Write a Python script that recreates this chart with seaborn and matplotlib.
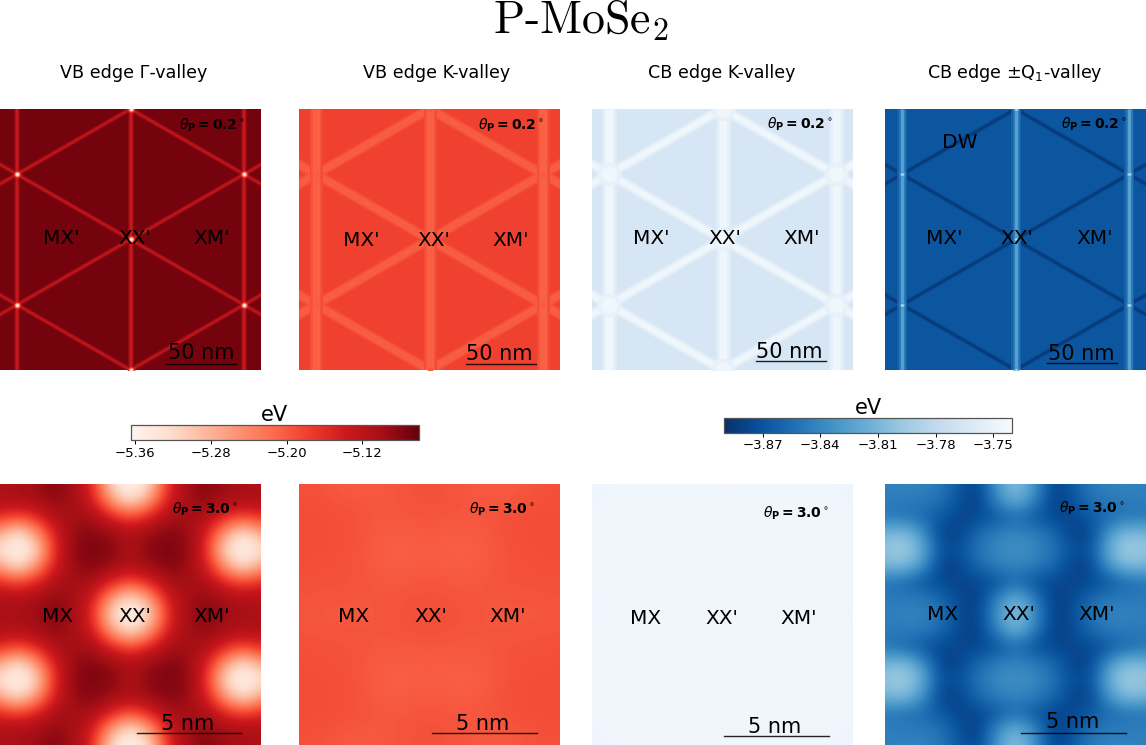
import numpy as np
import matplotlib
matplotlib.use('Agg')
import matplotlib.pyplot as plt
import seaborn as sns

W, H = 1146, 745
PANEL = 261

valleys = ['VB edge Γ-valley', 'VB edge K-valley', 'CB edge K-valley', 'CB edge ±Q$_1$-valley']
red_ticks = [-5.36, -5.28, -5.20, -5.12]
blue_ticks = [-3.87, -3.84, -3.81, -3.78, -3.75]
red_range = (-5.365, -5.0605)
blue_range = (-3.8903, -3.74)

# domain walls of the 0.2 degree panels, nm from panel centre
wall_diag_x = [(-162.8, 162.8), (-162.8, 162.8), (-162.8, 0), (0, 162.8), (-162.8, 0), (0, 162.8)]
wall_diag_y = [(93.6, -93.6), (-93.6, 93.6), (0, 93.6), (93.6, 0), (0, -93.6), (-93.6, 0)]
wall_vert_x = [-81.4, 0, 81.4]
node_x = [0, 0, 0, -81.4, -81.4, 81.4, 81.4]
node_y = [93.6, 0, -93.6, 46.8, -46.8, 46.8, -46.8]
SPAN = 187.2

# energies on the flat part of the 0.2 degree panels (eV)
top_gamma_vb = [[-5.069, -5.069], [-5.069, -5.069]]
top_k_vb = [[-5.180, -5.180], [-5.180, -5.180]]
top_k_cb = [[-3.7635, -3.7635], [-3.7635, -3.7635]]
top_q_cb = [[-3.8685, -3.8685], [-3.8685, -3.8685]]

# (eV) diagonal wall, vertical wall and node levels, outermost first
gamma_levels = ([-5.085, -5.105, -5.125], [-5.085, -5.11, -5.135], [-5.16, -5.26, -5.36])
kvb_levels = ([-5.186, -5.194, -5.203], [-5.186, -5.196, -5.205], [-5.200])
kcb_levels = ([-3.758, -3.752, -3.746], [-3.758, -3.752, -3.746], [-3.752, -3.746])
q_levels = ([-3.873, -3.878, -3.884], [-3.862, -3.848, -3.824], [-3.83, -3.79])

# 3.0 degree panels: left half of the top half, the picture is mirror symmetric
bot_gamma_vb = [
    [-5.108, -5.105, -5.095, -5.078, -5.097, -5.155, -5.330, -5.360],
    [-5.108, -5.105, -5.100, -5.085, -5.100, -5.140, -5.260, -5.340],
    [-5.155, -5.185, -5.155, -5.108, -5.098, -5.100, -5.150, -5.185],
    [-5.260, -5.340, -5.260, -5.140, -5.088, -5.080, -5.090, -5.112],
    [-5.330, -5.360, -5.330, -5.155, -5.082, -5.072, -5.082, -5.108],
    [-5.260, -5.340, -5.260, -5.140, -5.088, -5.080, -5.090, -5.112],
    [-5.155, -5.185, -5.155, -5.108, -5.098, -5.100, -5.150, -5.185],
    [-5.108, -5.112, -5.100, -5.085, -5.100, -5.140, -5.260, -5.340],
    [-5.105, -5.102, -5.095, -5.078, -5.097, -5.155, -5.330, -5.360],
]
bot_k_vb = [
    [-5.192, -5.192, -5.205, -5.197, -5.190],
    [-5.190, -5.188, -5.190, -5.197, -5.192],
    [-5.189, -5.189, -5.192, -5.212, -5.202],
    [-5.190, -5.192, -5.192, -5.198, -5.195],
    [-5.195, -5.198, -5.200, -5.194, -5.186],
]
bot_k_cb = [
    [-3.746, -3.746, -3.745],
    [-3.746, -3.745, -3.745],
    [-3.746, -3.746, -3.745],
]
bot_q_cb = [
    [-3.844, -3.842, -3.842, -3.847, -3.867, -3.880, -3.830, -3.800],
    [-3.844, -3.847, -3.847, -3.852, -3.872, -3.882, -3.840, -3.812],
    [-3.850, -3.850, -3.856, -3.867, -3.877, -3.877, -3.867, -3.855],
    [-3.812, -3.803, -3.828, -3.877, -3.880, -3.857, -3.845, -3.840],
    [-3.800, -3.793, -3.810, -3.872, -3.872, -3.852, -3.838, -3.835],
    [-3.812, -3.803, -3.828, -3.877, -3.880, -3.857, -3.845, -3.840],
    [-3.850, -3.856, -3.867, -3.877, -3.877, -3.877, -3.872, -3.855],
    [-3.847, -3.847, -3.847, -3.857, -3.877, -3.882, -3.845, -3.812],
    [-3.845, -3.842, -3.842, -3.850, -3.874, -3.882, -3.832, -3.798],
]

top_left = [0, 299, 592, 885]


def unfold(half):
    rows = [r + r[-2::-1] for r in half]
    return np.array(rows + rows[-2::-1])


def field(ax, grid, cmap, vrange, step, cax=None):
    # heatmap sets up the axes and the colour bar, imshow on top smooths the cells
    grid = np.array(grid)
    sns.heatmap(grid, ax=ax, cmap=cmap, vmin=vrange[0], vmax=vrange[1],
                xticklabels=False, yticklabels=False,
                cbar=cax is not None, cbar_ax=cax,
                cbar_kws={'orientation': 'horizontal'})
    ny, nx = grid.shape
    ax.imshow(grid, cmap=cmap, vmin=vrange[0], vmax=vrange[1], aspect='auto',
              interpolation='bicubic', extent=(0, nx, ny, 0), zorder=1.5)
    ax.set_xlim(nx / 2 - PANEL / 2 / step[0], nx / 2 + PANEL / 2 / step[0])
    ax.set_ylim(ny / 2 + PANEL / 2 / step[1], ny / 2 - PANEL / 2 / step[1])


def walls(ax, levels, cmap, vrange, diag_w, vert_w, node_s):
    cm = plt.get_cmap(cmap)
    norm = plt.Normalize(*vrange)
    diag, vert, node = levels
    for v, w in zip(diag, diag_w):
        for xs, ys in zip(wall_diag_x, wall_diag_y):
            ax.plot(np.array(xs) / SPAN + 0.5, np.array(ys) / SPAN + 0.5, color=cm(norm(v)),
                    lw=w * 0.72, transform=ax.transAxes, solid_capstyle='butt')
    for v, w in zip(vert, vert_w):
        for x in wall_vert_x:
            ax.plot([x / SPAN + 0.5] * 2, [0, 1], color=cm(norm(v)),
                    lw=w * 0.72, transform=ax.transAxes, solid_capstyle='butt')
    for v, s in zip(node, node_s):
        ax.scatter(np.array(node_x) / SPAN + 0.5, np.array(node_y) / SPAN + 0.5, s=s,
                   color=cm(norm(v)), lw=0, transform=ax.transAxes, zorder=5, clip_on=True)


def px_text(x, y, s, **kw):
    fig.text(x / W, 1 - y / H, s, ha='center', va='center', **kw)


def scale_bar(x0, x1, y, s, tx, ty):
    fig.add_artist(plt.Line2D([x0 / W, x1 / W], [1 - y / H] * 2, color='k', lw=1.0, alpha=0.85))
    px_text(tx, ty, s, fontsize=15)


fig = plt.figure(figsize=(W / 100, H / 100), dpi=100)


def panel(x, y):
    return fig.add_axes([x / W, 1 - (y + PANEL) / H, PANEL / W, PANEL / H])


cax_red = fig.add_axes([130.5 / W, 1 - 440 / H, 288 / W, 15 / H])
cax_blue = fig.add_axes([723.5 / W, 1 - 432.5 / H, 289 / W, 15 / H])

tops = [panel(x, 109) for x in top_left]
bots = [panel(x, 484) for x in top_left]

field(tops[0], top_gamma_vb, 'Reds', red_range, (130.5, 130.5), cax=cax_red)
field(tops[1], top_k_vb, 'Reds', red_range, (130.5, 130.5))
field(tops[2], top_k_cb, 'Blues_r', blue_range, (130.5, 130.5), cax=cax_blue)
field(tops[3], top_q_cb, 'Blues_r', blue_range, (130.5, 130.5))

walls(tops[0], gamma_levels, 'Reds', red_range, [5, 3.2, 1.6], [6, 3.6, 2], [30, 12, 4])
walls(tops[1], kvb_levels, 'Reds', red_range, [11, 9, 6.5], [13, 10, 7], [16])
walls(tops[2], kcb_levels, 'Blues_r', blue_range, [11, 8, 5], [15, 11, 7], [300, 130])
walls(tops[3], q_levels, 'Blues_r', blue_range, [5, 3.5, 2], [10, 6.5, 3.2], [16, 5])

field(bots[0], unfold(bot_gamma_vb), 'Reds', red_range, (18.9, 16.31))
field(bots[1], unfold(bot_k_vb), 'Reds', red_range, (37.8, 32.62))
field(bots[2], unfold(bot_k_cb), 'Blues_r', blue_range, (75.6, 65.25))
field(bots[3], unfold(bot_q_cb), 'Blues_r', blue_range, (18.9, 16.31))

for owner, cax, ticks in [(tops[0], cax_red, red_ticks), (tops[2], cax_blue, blue_ticks)]:
    cb = owner.collections[0].colorbar
    cb.set_ticks(ticks)
    cb.ax.tick_params(labelsize=9.5, length=3, width=0.7, pad=2)
    cb.outline.set_linewidth(0.9)
    cb.outline.set_edgecolor('#555555')
    cax.set_title('eV', fontsize=15, pad=2)

px_text(581, 21, r'P-MoSe$_2$', fontsize=33, family='cmr10', math_fontfamily='cm')
for x, s in zip([134, 437, 722, 1015], valleys):
    px_text(x, 73, s, fontsize=12.6)

top_labels = [[61, 135, 212], [361, 434, 511], [651, 725, 802], [944, 1017, 1095]]
top_label_y = [239, 240, 238, 239]
bot_labels = [[58, 135, 212], [354, 431, 508], [646, 722, 799], [943, 1019, 1097]]
bot_label_y = [616, 616, 619, 615]
for xs, y in zip(top_labels, top_label_y):
    for x, s in zip(xs, ["MX'", "XX'", "XM'"]):
        px_text(x, y, s, fontsize=14.5)
for xs, y in zip(bot_labels, bot_label_y):
    for x, s in zip(xs, ['MX', "XX'", "XM'"]):
        px_text(x, y, s, fontsize=14.5)
px_text(960, 143, 'DW', fontsize=14.5)

for x, y in zip([212, 511, 800, 1094], [125, 125, 124, 124]):
    px_text(x, y, r'$\theta_{\mathbf{P}} \mathbf{=} \mathbf{0.2}^\circ$', fontsize=10)
for x, y in zip([205, 502, 796, 1092], [509, 509, 513, 508]):
    px_text(x, y, r'$\theta_{\mathbf{P}} \mathbf{=} \mathbf{3.0}^\circ$', fontsize=10)

scale_bar(166, 236, 364, '50 nm', 201, 353)
scale_bar(466, 536, 364, '50 nm', 499, 354)
scale_bar(756, 826, 361, '50 nm', 789, 352)
scale_bar(1047, 1117, 363, '50 nm', 1081, 354)
scale_bar(137, 241, 733, '5 nm', 188, 724)
scale_bar(432, 537, 733, '5 nm', 483, 724)
scale_bar(724, 829, 736, '5 nm', 775, 727)
scale_bar(1021, 1126, 733, '5 nm', 1073, 722)

fig.savefig('out.png', dpi=100)
